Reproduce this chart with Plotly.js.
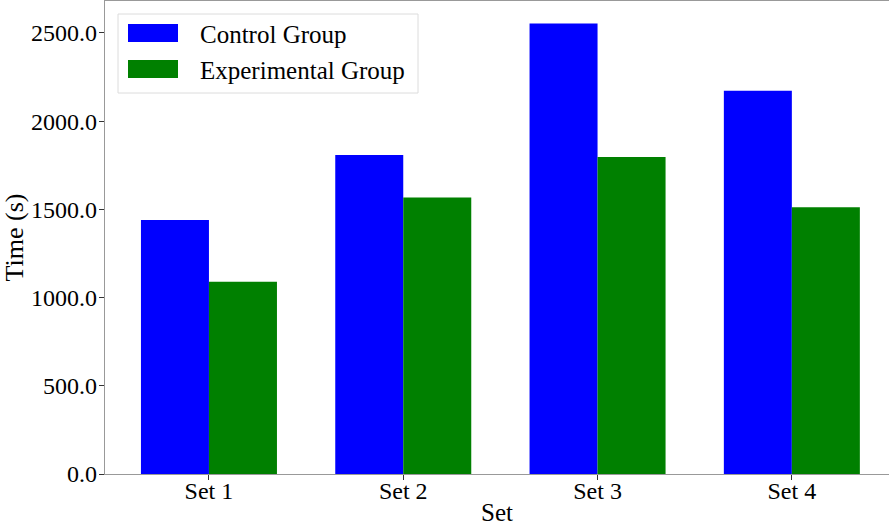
<!DOCTYPE html>
<html>
<head>
<meta charset="utf-8">
<script src="https://cdn.plot.ly/plotly-3.0.1.min.js"></script>
<style>html,body{margin:0;padding:0;background:#fff;}#chart{width:889px;height:528px;}</style>
</head>
<body>
<div id="chart"></div>
<script>
const categories = ["Set 1", "Set 2", "Set 3", "Set 4"];
const seriesNames = ["Control Group", "Experimental Group"];
const controlValues = [1440, 1808, 2553, 2172];
const experimentalValues = [1090, 1567, 1797, 1512];
const yTickValues = [0, 500, 1000, 1500, 2000, 2500];
const seriesColors = ["#0000ff", "#008000"];

const W = 889, H = 528;
const M = {l: 105, r: 0, t: 1, b: 54};
const pw = W - M.l - M.r, ph = H - M.t - M.b;
const px = x => (x - M.l) / pw;
const py = y => (H - M.b - y) / ph;
const FONT = "'Liberation Serif', 'Times New Roman', serif";

const xIdx = categories.map((_, i) => i);
const traces = [controlValues, experimentalValues].map((vals, k) => ({
  type: "bar",
  name: seriesNames[k],
  x: xIdx,
  y: vals,
  marker: {color: seriesColors[k], line: {width: 0}},
  showlegend: false,
  hoverinfo: "x+y"
}));

// custom legend (matplotlib style)
const shapes = [
  {type: "rect", xref: "paper", yref: "paper", x0: px(118), x1: px(418), y0: py(93), y1: py(14),
   line: {color: "#dcdcdc", width: 1}, fillcolor: "rgba(255,255,255,0.85)", layer: "above"}
];
const annotations = [];
const rowY = [33, 69];
seriesNames.forEach((n, k) => {
  shapes.push({type: "rect", xref: "paper", yref: "paper", x0: px(128), x1: px(178),
    y0: py(rowY[k] + 9), y1: py(rowY[k] - 9), line: {width: 0}, fillcolor: seriesColors[k], layer: "above"});
  annotations.push({xref: "paper", yref: "paper", x: px(198), y: py(rowY[k] + 1), xanchor: "left", yanchor: "middle",
    text: n, showarrow: false, font: {family: FONT, size: 25, color: "#000"}});
});

const maxV = Math.max(...controlValues, ...experimentalValues);
const layout = {
  width: W, height: H,
  margin: M,
  paper_bgcolor: "#fff", plot_bgcolor: "#fff",
  barmode: "group", bargap: 0.3, bargroupgap: 0,
  font: {family: FONT, size: 24, color: "#000"},
  xaxis: {
    range: [-0.535, -0.535 + pw / 194.3],
    tickvals: xIdx, ticktext: categories,
    showgrid: false, zeroline: false,
    showline: true, linecolor: "#999", linewidth: 1.2, mirror: true,
    ticks: "outside", ticklen: 5, tickcolor: "#333", tickwidth: 1,
    ticklabelstandoff: -10,
    tickfont: {family: FONT, size: 24},
    title: {text: "Set", font: {family: FONT, size: 25}, standoff: 0}
  },
  yaxis: {
    range: [0, maxV * 1.05],
    tickvals: yTickValues, tickformat: ".1f",
    showgrid: false, zeroline: false,
    showline: true, linecolor: "#999", linewidth: 1.2, mirror: false,
    ticks: "outside", ticklen: 5, tickcolor: "#333", tickwidth: 1,
    ticklabelstandoff: -3,
    tickfont: {family: FONT, size: 24},
    title: {text: "Time (s)", font: {family: FONT, size: 26}, standoff: 0}
  },
  shapes: shapes,
  annotations: annotations
};

Plotly.newPlot("chart", traces, layout, {displayModeBar: false, staticPlot: true});
</script>
</body>
</html>
